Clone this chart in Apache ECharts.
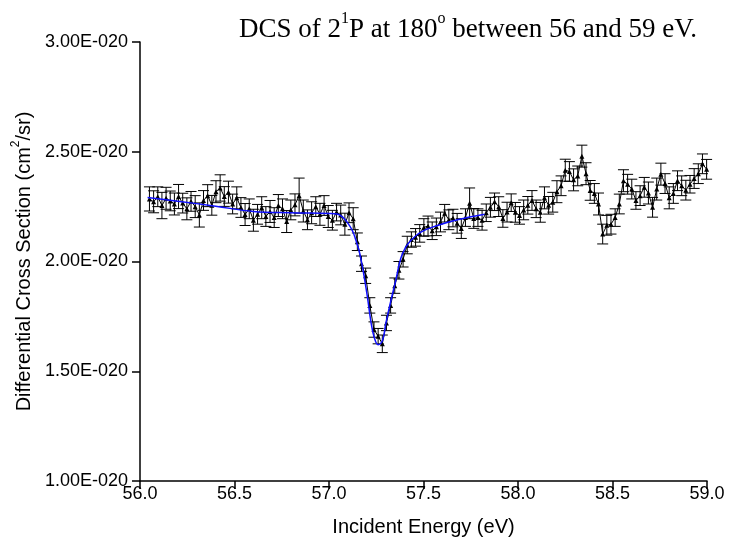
<!DOCTYPE html>
<html>
<head>
<meta charset="utf-8">
<script src="https://cdn.jsdelivr.net/npm/echarts@6/dist/echarts.min.js"></script>
<style>html,body{margin:0;padding:0;background:#fff;}#c{width:744px;height:552px;}</style>
</head>
<body>
<div id="c"></div>
<script>
// Incident energy (eV)
var energies = [56.050,56.072,56.094,56.116,56.138,56.160,56.182,56.204,56.226,56.248,56.270,56.292,56.314,56.336,56.358,56.380,56.402,56.424,56.446,56.468,56.490,56.512,56.534,56.556,56.578,56.600,
56.622,56.644,56.666,56.688,56.710,56.732,56.754,56.776,56.798,56.820,56.842,56.864,56.886,56.908,56.930,56.952,56.974,56.996,57.018,57.040,57.062,57.084,57.106,57.128,
57.150,57.172,57.194,57.216,57.238,57.260,57.282,57.304,57.326,57.348,57.370,57.392,57.414,57.436,57.458,57.480,57.502,57.524,57.546,57.568,57.590,57.612,57.634,57.656,
57.678,57.700,57.722,57.744,57.766,57.788,57.810,57.832,57.854,57.876,57.898,57.920,57.942,57.964,57.986,58.008,58.030,58.052,58.074,58.096,58.118,58.140,58.162,58.184,58.206,58.228,58.250,58.272,58.294,58.316,58.338,
58.360,58.382,58.404,58.426,58.448,58.470,58.492,58.514,58.536,58.558,58.580,58.602,58.624,58.646,58.668,58.690,58.712,58.734,58.756,58.778,58.800,58.822,58.844,58.866,58.888,58.910,58.932,58.954,58.976,58.998];
// DCS (units of 1E-20 cm^2/sr)
var dcs = [2.285,2.272,2.295,2.255,2.288,2.276,2.262,2.296,2.266,2.240,2.274,2.250,2.212,2.278,2.300,2.256,2.318,2.335,2.296,2.316,2.262,2.290,2.246,2.214,2.240,2.188,
2.215,2.245,2.205,2.228,2.200,2.255,2.240,2.182,2.235,2.258,2.300,2.230,2.190,2.222,2.250,2.215,2.255,2.205,2.188,2.225,2.212,2.170,2.222,2.195,
2.090,1.990,1.935,1.800,1.690,1.660,1.625,1.720,1.800,1.890,1.960,2.010,2.075,2.100,2.110,2.128,2.155,2.162,2.140,2.158,2.180,2.220,2.190,2.198,
2.174,2.150,2.200,2.265,2.196,2.200,2.188,2.222,2.247,2.272,2.250,2.196,2.225,2.268,2.224,2.210,2.235,2.256,2.278,2.240,2.224,2.290,2.256,2.270,2.318,2.345,2.416,2.410,2.372,2.390,2.480,
2.400,2.324,2.310,2.262,2.125,2.165,2.170,2.200,2.262,2.368,2.352,2.330,2.278,2.300,2.338,2.312,2.247,2.330,2.398,2.355,2.290,2.310,2.368,2.345,2.325,2.352,2.378,2.400,2.445,2.420];
// Error (units of 1E-20)
var errs = [0.055,0.05,0.045,0.06,0.05,0.045,0.05,0.055,0.045,0.05,0.045,0.05,0.055,0.045,0.05,0.045,0.05,0.06,0.045,0.05,0.045,0.05,0.045,0.05,0.045,0.05,
0.045,0.05,0.045,0.05,0.045,0.05,0.045,0.05,0.045,0.05,0.08,0.05,0.045,0.05,0.045,0.05,0.045,0.05,0.045,0.04,0.045,0.05,0.045,0.05,
0.04,0.035,0.035,0.035,0.035,0.035,0.04,0.035,0.035,0.035,0.04,0.035,0.04,0.035,0.04,0.04,0.04,0.045,0.04,0.04,0.045,0.04,0.045,0.04,
0.045,0.045,0.04,0.07,0.045,0.04,0.045,0.04,0.045,0.04,0.045,0.04,0.045,0.04,0.045,0.04,0.045,0.04,0.045,0.04,0.045,0.05,0.04,0.045,0.05,0.045,0.05,0.045,0.05,0.045,0.05,
0.05,0.045,0.045,0.05,0.045,0.045,0.045,0.04,0.045,0.05,0.045,0.045,0.04,0.045,0.045,0.05,0.045,0.05,0.05,0.045,0.05,0.045,0.045,0.045,0.045,0.04,0.045,0.045,0.045,0.045];
// Fit curve (energy, value)
var fitE = [56.04,56.2,56.4,56.6,56.8,57.0,57.044,57.071,57.097,57.124,57.141,57.159,57.177,57.203,57.221,57.239,57.26,57.283,57.30,57.327,57.353,57.38,57.406,57.433,57.486,57.574,57.68,57.823];
var fitV = [2.292,2.275,2.252,2.228,2.222,2.219,2.216,2.203,2.178,2.14,2.10,2.05,1.975,1.84,1.73,1.655,1.621,1.64,1.715,1.82,1.913,2.015,2.065,2.096,2.134,2.164,2.19,2.215];
var xTicks = {min:56, max:59, interval:0.5};
var yTicks = {min:1, max:3, interval:0.5};

var chart = echarts.init(document.getElementById('c'), null, {renderer:'canvas'});
var sans = 'Liberation Sans';
var serif = 'Liberation Serif';
var pts = energies.map(function(e,i){return [e, dcs[i]];});
var bars = energies.map(function(e,i){return [e, dcs[i]-errs[i], dcs[i]+errs[i]];});
var fit = fitE.map(function(e,i){return [e, fitV[i]];});

chart.setOption({
  animation:false,
  backgroundColor:'#fff',
  title:{
    text:'{t|DCS of 2}{s|1}{t|P at 180}{s|o}{t| between 56 and 59 eV.}',
    left:234, top:6,
    textStyle:{rich:{
      t:{fontFamily:serif,fontSize:27,fontWeight:'normal',color:'#000',verticalAlign:'bottom',lineHeight:32},
      s:{fontFamily:serif,fontSize:16,fontWeight:'normal',color:'#000',verticalAlign:'top',lineHeight:18}
    }}
  },
  grid:{left:140,right:37,top:42,bottom:71,containLabel:false},
  xAxis:{
    type:'value', min:xTicks.min, max:xTicks.max, interval:xTicks.interval,
    name:'Incident Energy (eV)', nameLocation:'middle', nameGap:36,
    nameTextStyle:{fontFamily:sans,fontSize:20,color:'#000'},
    axisLine:{lineStyle:{color:'#000',width:1.5}},
    axisTick:{length:8,lineStyle:{color:'#000',width:1.5}},
    axisLabel:{fontFamily:sans,fontSize:18,color:'#000',margin:4,formatter:function(v){return v.toFixed(1);}},
    splitLine:{show:false}
  },
  yAxis:{
    type:'value', min:yTicks.min, max:yTicks.max, interval:yTicks.interval,
    name:'{a|Differential Cross Section (cm}{s|2}{a|/sr)}', nameLocation:'middle', nameGap:97,
    nameTextStyle:{rich:{
      a:{fontFamily:sans,fontSize:20,color:'#000',verticalAlign:'bottom',lineHeight:24},
      s:{fontFamily:sans,fontSize:12,color:'#000',verticalAlign:'top',lineHeight:13}
    }},
    axisLine:{show:true,lineStyle:{color:'#000',width:1.5}},
    axisTick:{show:true,length:8,lineStyle:{color:'#000',width:1.5}},
    axisLabel:{fontFamily:sans,fontSize:18,color:'#000',margin:12,formatter:function(v){return v.toFixed(2)+'E-020';}},
    splitLine:{show:false}
  },
  series:[
    {
      type:'custom', z:1, silent:true,
      renderItem:function(params, api){
        var x = api.value(0);
        var top = api.coord([x, api.value(2)]);
        var bot = api.coord([x, api.value(1)]);
        var w = 5.5;
        var st = {stroke:'#000', lineWidth:1};
        return {type:'group', children:[
          {type:'line', shape:{x1:top[0],y1:top[1],x2:bot[0],y2:bot[1]}, style:st},
          {type:'line', shape:{x1:top[0]-w,y1:top[1],x2:top[0]+w,y2:top[1]}, style:st},
          {type:'line', shape:{x1:bot[0]-w,y1:bot[1],x2:bot[0]+w,y2:bot[1]}, style:st}
        ]};
      },
      encode:{x:0,y:[1,2]},
      data:bars
    },
    {
      type:'line', z:2, data:pts, symbol:'triangle', symbolSize:5,
      lineStyle:{color:'#000',width:1}, itemStyle:{color:'#000'}
    },
    {
      type:'line', z:3, data:fit, symbol:'none', smooth:0.4,
      lineStyle:{color:'#1010ff',width:1.5}
    }
  ]
});
</script>
</body>
</html>
